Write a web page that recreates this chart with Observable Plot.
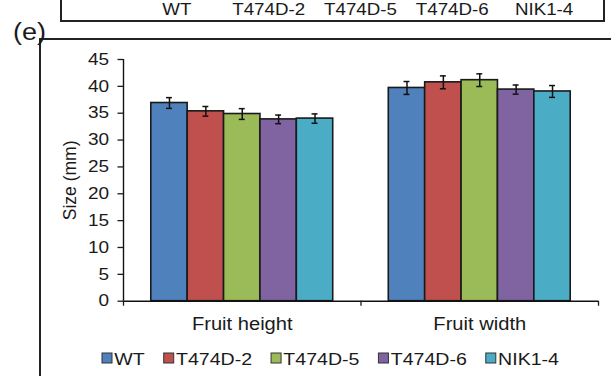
<!DOCTYPE html>
<html><head><meta charset="utf-8">
<script src="https://cdn.jsdelivr.net/npm/d3@7"></script>
<script src="https://cdn.jsdelivr.net/npm/@observablehq/plot@0.6"></script>
<style>
html,body{margin:0;padding:0;background:#fff;}
#wrap{position:relative;width:611px;height:376px;overflow:hidden;font-family:"Liberation Sans",Arial,sans-serif;color:#111;}
#wrap svg{position:absolute;left:0;top:0;}
</style></head><body><div id="wrap"></div>
<script>
// ---- data ----
const lines = ["WT", "T474D-2", "T474D-5", "T474D-6", "NIK1-4"];
const colors = ["#4F81BD", "#C0504D", "#9BBB59", "#8064A2", "#4BACC6"];
const groups = ["Fruit height", "Fruit width"];
const heightMeans = [36.9, 35.35, 34.85, 33.85, 34.0];
const heightErr = [1.0, 0.9, 1.0, 0.8, 0.87];
const widthMeans = [39.7, 40.75, 41.15, 39.4, 39.05];
const widthErr = [1.2, 1.2, 1.18, 0.85, 1.1];
const yTicks = [0, 5, 10, 15, 20, 25, 30, 35, 40, 45];
const panelTag = "(e)";
const yLabel = "Size (mm)";

const STRETCH = 1.15;
const pad = 0.117, bw = (1 - 2 * pad) / lines.length, cap = 0.0125;
const data = groups.flatMap((g, gi) => lines.map((l, li) => ({
  group: g, gi, line: l, li,
  value: (gi ? widthMeans : heightMeans)[li],
  err: (gi ? widthErr : heightErr)[li]
})));
const x1 = d => d.gi + pad + d.li * bw;
const xc = d => x1(d) + bw / 2;

const chart = Plot.plot({
  width: 611, height: 376,
  marginLeft: 123, marginRight: 13, marginTop: 59, marginBottom: 75.3,
  style: {fontFamily: "'Liberation Sans', Arial, sans-serif", color: "#1a1a1a", background: "transparent"},
  x: {domain: [0, 2]},
  y: {domain: [0, 45]},
  color: {domain: lines, range: colors},
  marks: [
    Plot.rectY(data, {x1, x2: d => x1(d) + bw, y: "value", fill: "line", stroke: "#1a1a1a", strokeWidth: 1.6}),
    Plot.ruleX(data, {x: xc, y1: d => d.value - d.err, y2: d => d.value + d.err, stroke: "#111", strokeWidth: 1.5}),
    Plot.ruleY(data, {y: d => d.value + d.err, x1: d => xc(d) - cap, x2: d => xc(d) + cap, stroke: "#111", strokeWidth: 1.5}),
    Plot.ruleY(data, {y: d => d.value - d.err, x1: d => xc(d) - cap, x2: d => xc(d) + cap, stroke: "#111", strokeWidth: 1.5}),
    Plot.ruleY([0], {stroke: "#111", strokeWidth: 1.4}),
    Plot.ruleX([0], {stroke: "#111", strokeWidth: 1.4}),
    Plot.axisY({ticks: yTicks, tickSize: 5.5, tickPadding: 9, fontSize: 16.5, label: null, strokeWidth: 1.3}),
    Plot.axisY({ticks: [], label: yLabel, labelAnchor: "center", labelOffset: 60, labelArrow: false, fontSize: 17.5}),
    Plot.axisX({ticks: [0, 1, 2], tickSize: 5, tickFormat: () => "", label: null, strokeWidth: 1.3}),
    Plot.axisX({ticks: [0.5, 1.5], tickSize: 0, tickPadding: 16, tickFormat: d => groups[Math.floor(d)], fontSize: 17.5, label: null})
  ]
});
const wrap = document.getElementById("wrap");
wrap.appendChild(chart);

function stretch(nodes) {
  nodes.forEach(t => {
    const tr = (t.getAttribute("transform") || "") + (t.parentNode.getAttribute && t.parentNode.getAttribute("transform") || "");
    if (tr.includes("rotate")) return;
    const L = t.getComputedTextLength();
    if (L > 0) { t.setAttribute("textLength", L * STRETCH); t.setAttribute("lengthAdjust", "spacingAndGlyphs"); }
  });
}
stretch([...chart.querySelectorAll("text")]);

// ---- overlay: neighbouring panel, panel frame, tag, legend ----
const ov = d3.select(wrap).append("svg").attr("width", 611).attr("height", 376)
  .style("font-family", "'Liberation Sans', Arial, sans-serif");
ov.append("rect").attr("x", 61).attr("y", -20).attr("width", 543).attr("height", 41)
  .attr("fill", "none").attr("stroke", "#222").attr("stroke-width", 2);
const topX = d3.scaleBand().domain(lines).range([131, 590]);
ov.selectAll("text.top").data(lines).join("text").attr("class", "top")
  .attr("x", d => topX(d) + topX.bandwidth() / 2).attr("y", 15)
  .attr("text-anchor", "middle").attr("font-size", 16.3).attr("fill", "#1a1a1a").text(d => d);
ov.append("path").attr("d", "M40,380V39H615").attr("fill", "none").attr("stroke", "#222").attr("stroke-width", 2);
const tag = ov.append("text").attr("class", "tag").attr("x", 13).attr("y", 40).attr("font-size", 23.5).attr("fill", "#1a1a1a").text(panelTag);

const leg = ov.append("g");
let lx = 102;
lines.forEach((l, i) => {
  leg.append("rect").attr("x", lx).attr("y", 353).attr("width", 10).attr("height", 10)
    .attr("fill", colors[i]).attr("stroke", "#333").attr("stroke-width", 1);
  const t = leg.append("text").attr("x", lx + 12.3).attr("y", 365).attr("font-size", 17).attr("fill", "#1a1a1a").text(l);
  const L = t.node().getComputedTextLength() * STRETCH;
  t.attr("textLength", L).attr("lengthAdjust", "spacingAndGlyphs");
  lx += 12.3 + L + 19;
});
stretch([...ov.selectAll("text.top").nodes(), tag.node()]);
</script>
</body></html>
